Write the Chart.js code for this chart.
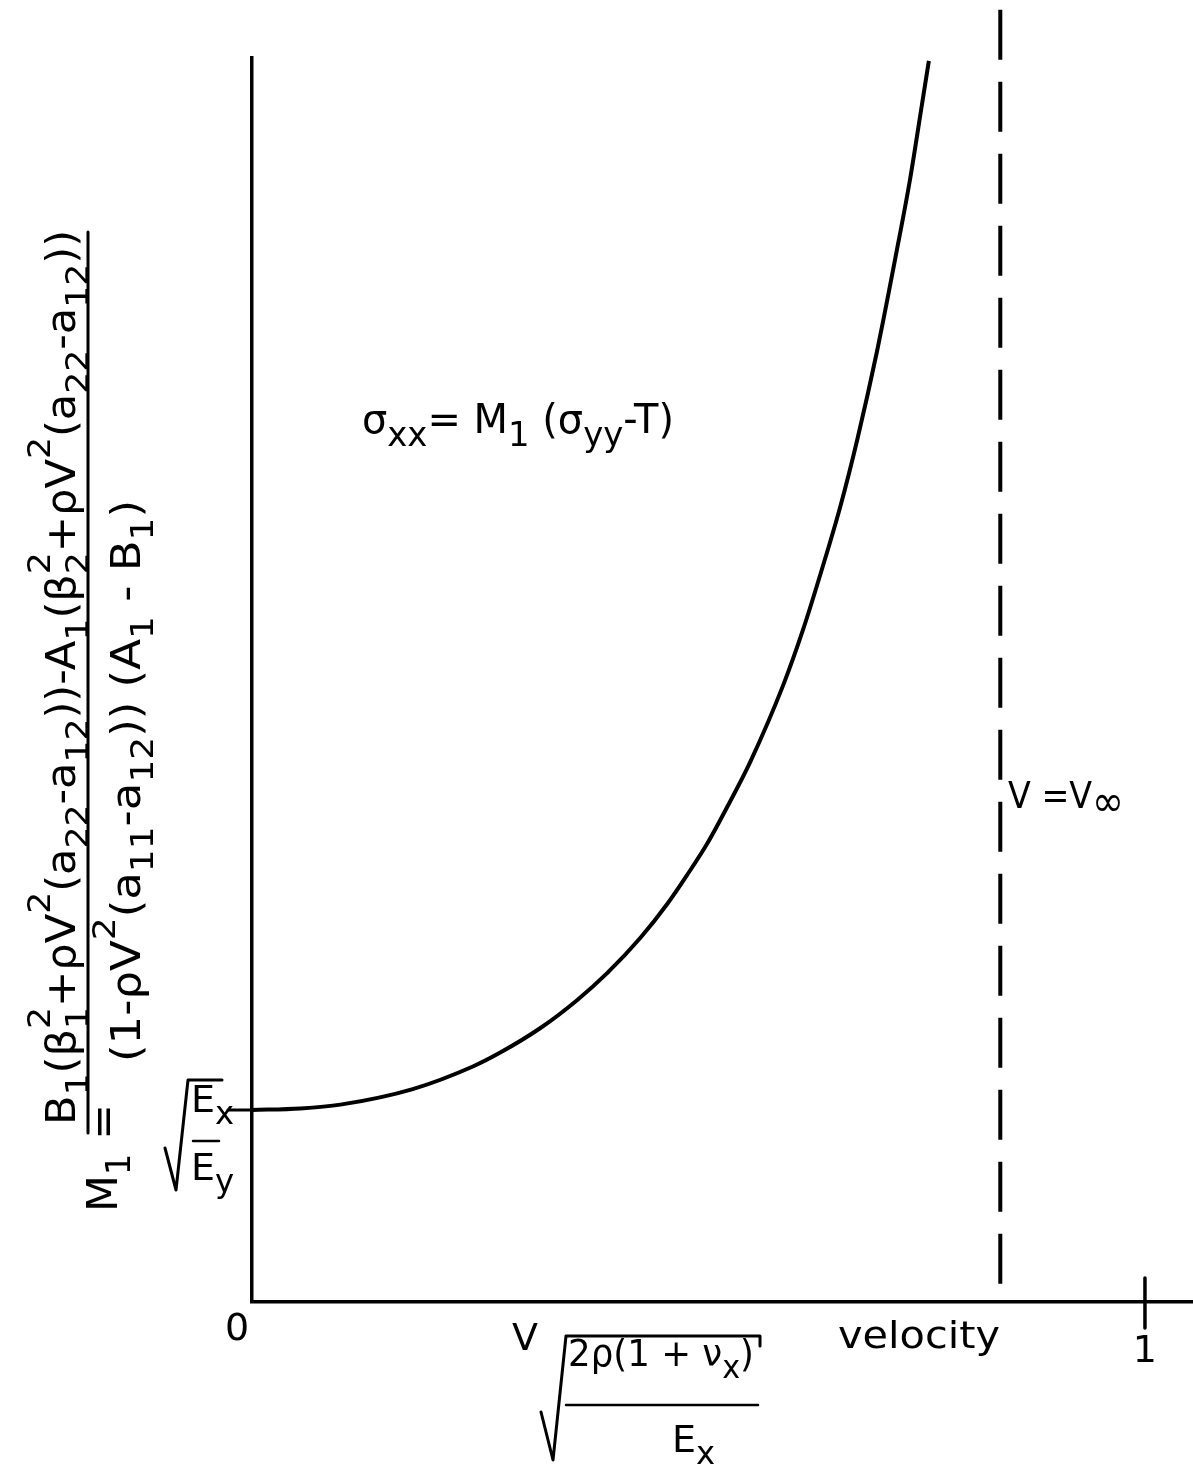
<!DOCTYPE html>
<html>
<head>
<meta charset="utf-8">
<script src="https://cdn.jsdelivr.net/npm/chart.js@4"></script>
<style>
  html, body { margin: 0; padding: 0; background: #fff; }
  canvas { display: block; }
</style>
</head>
<body>
<canvas id="myChart" width="1193" height="1464"></canvas>
<script>
// reduced velocity  V*sqrt(2rho(1+nu_x)/E_x)
const vel = [0, 0.054, 0.099, 0.180, 0.248, 0.278, 0.323, 0.364, 0.398, 0.435, 0.465, 0.487, 0.510,
             0.535, 0.558, 0.595, 0.617, 0.639, 0.659, 0.678, 0.700, 0.722, 0.737, 0.750, 0.758];
// M1 in units of sqrt(Ex/Ey)
const M1 = [1.0, 1.008, 1.028, 1.109, 1.228, 1.299, 1.427, 1.572, 1.714, 1.897, 2.073, 2.222, 2.389,
            2.603, 2.813, 3.214, 3.500, 3.828, 4.146, 4.495, 4.953, 5.474, 5.849, 6.229, 6.464];
const vInf = 0.838;          // V = V_infinity asymptote
const xTicks = [1];
const xTickLabels = ['1'];
const yTicks = [1];          // sqrt(Ex/Ey)

const F = '"DejaVu Sans"';

function seg(ctx, x1, y1, x2, y2, w) {
    ctx.lineWidth = w;
    ctx.beginPath(); ctx.moveTo(x1, y1); ctx.lineTo(x2, y2); ctx.stroke();
}

// parts: [text, mode]  mode 0 normal, 'b' subscript, 'p' superscript,
// 'B' big lowered glyph, 'bp' stacked [sup, sub]
function rich(ctx, parts, x, y, size, draw, sub) {
    sub = sub || 0.72;
    let cx = x;
    for (const [t, m] of parts) {
        if (m === 'bp') {
            ctx.font = (size * sub) + 'px ' + F;
            const w = Math.max(ctx.measureText(t[0]).width, ctx.measureText(t[1]).width);
            if (draw) { ctx.fillText(t[0], cx, y - size * 0.62); ctx.fillText(t[1], cx, y + size * 0.32); }
            cx += w;
        } else {
            const s = m === 'B' ? size * 1.15 : m ? size * sub : size;
            ctx.font = s + 'px ' + F;
            const dy = m === 'b' ? size * 0.32 : m === 'B' ? size * 0.2 : m === 'p' ? -size * 0.62 : 0;
            if (draw) ctx.fillText(t, cx, y + dy);
            cx += ctx.measureText(t).width;
        }
    }
    return cx - x;
}

function fitRich(ctx, parts, x, y, size, width, sub) {
    const w = rich(ctx, parts, 0, 0, size, false, sub);
    ctx.save();
    ctx.translate(x, y);
    ctx.scale(width / w, 1);
    rich(ctx, parts, 0, 0, size, true, sub);
    ctx.restore();
}

const numer = [['B',0],['1','b'],['(β',0],[['2','1'],'bp'],['+ρV',0],['2','p'],['(a',0],['22','b'],['-a',0],['12','b'],
               ['))-A',0],['1','b'],['(β',0],[['2','2'],'bp'],['+ρV',0],['2','p'],['(a',0],['22','b'],['-a',0],['12','b'],['))',0]];
const denom = [['(1-ρV',0],['2','p'],['(a',0],['11','b'],['-a',0],['12','b'],[')) (A',0],['1','b'],[' - B',0],['1','b'],[')',0]];

const annot = {
    id: 'annot',
    afterDraw(chart) {
        const { ctx, chartArea: a, scales: { x, y } } = chart;
        ctx.save();
        ctx.fillStyle = '#000';
        ctx.strokeStyle = '#000';
        ctx.lineCap = 'round';
        ctx.lineJoin = 'round';
        ctx.textBaseline = 'alphabetic';

        // x ticks
        xTicks.forEach((v, i) => {
            const px = x.getPixelForValue(v);
            seg(ctx, px, a.bottom - 24, px, a.bottom + 26, 3.5);
            ctx.font = '38px ' + F;
            ctx.textAlign = 'center';
            ctx.fillText(xTickLabels[i], px, a.bottom + 60);
        });
        ctx.font = '38px ' + F;
        ctx.textAlign = 'center';
        ctx.fillText('0', a.left - 15, a.bottom + 38);

        // y tick with sqrt(Ex/Ey)
        ctx.textAlign = 'left';
        yTicks.forEach(v => {
            const py = y.getPixelForValue(v);
            seg(ctx, a.left - 24, py, a.left, py, 3);
            ctx.lineWidth = 3;
            ctx.beginPath();
            ctx.moveTo(a.left - 87, py + 38);
            ctx.lineTo(a.left - 76, py + 80);
            ctx.lineTo(a.left - 64, py - 30);
            ctx.lineTo(a.left - 30, py - 30);
            ctx.stroke();
            rich(ctx, [['E',0],['x','b']], a.left - 61, py + 2, 38, true, 0.85);
            seg(ctx, a.left - 59, py + 31, a.left - 33, py + 31, 2.5);
            rich(ctx, [['E',0],['y','b']], a.left - 61, py + 70, 38, true, 0.85);
        });

        // x axis title
        const b = a.bottom;
        ctx.font = '38px ' + F;
        ctx.fillText('V', 512, b + 48);
        ctx.lineWidth = 3;
        ctx.beginPath();
        ctx.moveTo(541, b + 110);
        ctx.lineTo(553, b + 158);
        ctx.lineTo(566, b + 34);
        ctx.lineTo(760, b + 34);
        ctx.lineTo(760, b + 44);
        ctx.stroke();
        fitRich(ctx, [['2ρ(1 + ν',0],['x','b'],[')',0]], 568, b + 64, 38, 186, 0.85);
        seg(ctx, 566, b + 103, 758, b + 103, 2.5);
        rich(ctx, [['E',0],['x','b']], 672, b + 150, 38, true, 0.85);
        fitRich(ctx, [['velocity',0]], 838, b + 46, 38, 162);

        // equation in plot
        fitRich(ctx, [['σ',0],['xx','b'],['= M',0],['1','b'],[' (σ',0],['yy','b'],['-T)',0]], 362, 433, 40, 312, 0.85);

        // asymptote label
        fitRich(ctx, [['V =V',0],['∞','B']], 1008, 808, 38, 116);

        // rotated y title
        ctx.save();
        ctx.translate(75, 1125);
        ctx.rotate(-Math.PI / 2);
        fitRich(ctx, numer, 0, 0, 40, 895, 0.8);
        ctx.restore();
        seg(ctx, 88, 232, 88, 1133, 3);
        ctx.save();
        ctx.translate(140, 1062);
        ctx.rotate(-Math.PI / 2);
        fitRich(ctx, denom, 0, 0, 40, 562, 0.8);
        ctx.restore();
        ctx.save();
        ctx.translate(117, 1212);
        ctx.rotate(-Math.PI / 2);
        fitRich(ctx, [['M',0],['1','b'],[' =',0]], 0, 0, 42, 108, 0.8);
        ctx.restore();

        ctx.restore();
    }
};

const ctx1 = document.getElementById('myChart').getContext('2d');
const myChart = new Chart(ctx1, {
    type: 'line',
    data: {
        datasets: [{
            label: 'M1',
            data: vel.map((v, i) => ({ x: v, y: M1[i] })),
            borderColor: '#000',
            borderWidth: 4,
            pointRadius: 0,
            cubicInterpolationMode: 'monotone',
            fill: false
        }, {
            label: 'V = Vinf',
            data: [{ x: vInf, y: 6.73 }, { x: vInf, y: 0 }],
            borderColor: '#000',
            borderWidth: 4,
            borderDash: [50, 22],
            pointRadius: 0,
            clip: false,
            fill: false
        }]
    },
    options: {
        responsive: false,
        animation: false,
        layout: { padding: { left: 252, right: 0, top: 58, bottom: 162 } },
        scales: {
            x: {
                type: 'linear', min: 0, max: 1.0538,
                ticks: { display: false },
                grid: { display: false, drawTicks: false },
                border: { display: true, color: '#000', width: 3.5 },
                afterFit: s => { s.height = 0; }
            },
            y: {
                type: 'linear', min: 0, max: 6.479,
                ticks: { display: false },
                grid: { display: false, drawTicks: false },
                border: { display: true, color: '#000', width: 3.5 },
                afterFit: s => { s.width = 0; }
            }
        },
        plugins: {
            legend: { display: false },
            tooltip: { enabled: false }
        }
    },
    plugins: [annot]
});
</script>
</body>
</html>
